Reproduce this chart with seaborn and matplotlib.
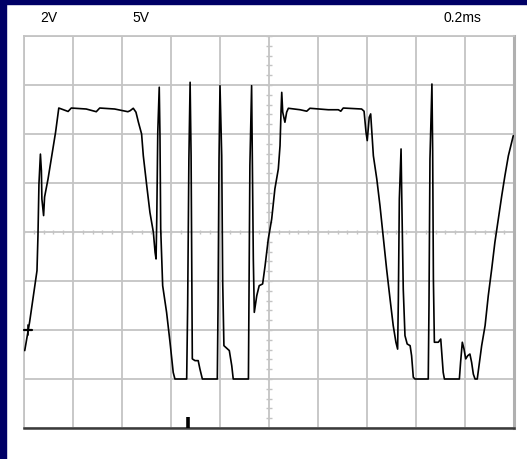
import matplotlib

matplotlib.use("Agg")
import matplotlib.pyplot as plt
from matplotlib.patches import Rectangle
import numpy as np
import pandas as pd
import seaborn as sns

# scope trace: time in ms (0.2 ms/div), volts (2 V/div, zero at marker)
time_ms = [
    0.003, 0.023, 0.044, 0.053, 0.057, 0.061, 0.067, 0.071, 0.073, 0.080,
    0.084, 0.098, 0.107, 0.118, 0.129, 0.136, 0.142, 0.180, 0.193, 0.254,
    0.295, 0.309, 0.370, 0.424, 0.433, 0.446, 0.457, 0.467, 0.480, 0.487,
    0.501, 0.514, 0.528, 0.535, 0.539, 0.542, 0.546, 0.552, 0.555, 0.558,
    0.566, 0.582, 0.596, 0.603, 0.609, 0.616, 0.664, 0.668, 0.673, 0.678,
    0.682, 0.687, 0.698, 0.711, 0.718, 0.728, 0.789, 0.792, 0.796, 0.800,
    0.807, 0.811, 0.816, 0.838, 0.848, 0.854, 0.916, 0.918, 0.922, 0.929,
    0.932, 0.936, 0.940, 0.950, 0.960, 0.974, 0.984, 0.997, 1.011, 1.024,
    1.038, 1.045, 1.049, 1.052, 1.056, 1.065, 1.072, 1.079, 1.127, 1.154,
    1.167, 1.242, 1.283, 1.293, 1.303, 1.378, 1.388, 1.396, 1.401, 1.409,
    1.415, 1.419, 1.426, 1.440, 1.453, 1.467, 1.480, 1.494, 1.507, 1.518,
    1.525, 1.528, 1.532, 1.539, 1.542, 1.548, 1.555, 1.564, 1.576, 1.582,
    1.589, 1.596, 1.650, 1.653, 1.657, 1.665, 1.668, 1.671, 1.675, 1.691,
    1.701, 1.705, 1.711, 1.716, 1.777, 1.782, 1.789, 1.796, 1.803, 1.811,
    1.820, 1.827, 1.834, 1.841, 1.850, 1.857, 1.868, 1.882, 1.895, 1.909,
    1.922, 1.936, 1.950, 1.963, 1.977, 1.997,
]
volts = [
    -0.84, 0.33, 1.81, 2.42, 3.85, 5.96, 7.18, 6.50, 5.35, 4.67,
    5.43, 6.16, 6.71, 7.39, 8.08, 8.61, 9.06, 8.92, 9.06, 9.02,
    8.91, 9.06, 9.02, 8.91, 8.95, 9.05, 8.89, 8.48, 8.00, 7.11,
    5.89, 4.80, 3.99, 3.17, 2.90, 4.61, 8.07, 9.91, 7.93, 4.12,
    1.81, 0.72, -0.50, -1.18, -1.73, -2.00, -2.00, 0.99, 6.98, 10.11,
    7.11, -1.18, -1.25, -1.25, -1.59, -2.00, -2.00, 0.99, 6.98, 9.97,
    7.11, 1.95, -0.64, -0.84, -1.46, -2.00, -2.00, 0.99, 6.71, 9.97,
    6.98, 2.90, 0.72, 1.40, 1.81, 1.88, 2.62, 3.71, 4.53, 5.76,
    6.57, 7.52, 8.89, 9.70, 8.89, 8.48, 8.89, 9.05, 8.99, 8.93,
    9.05, 8.99, 8.99, 8.93, 9.06, 9.02, 8.93, 8.07, 7.73, 8.68,
    8.82, 8.20, 7.11, 6.16, 5.07, 3.71, 2.49, 1.27, 0.18, -0.50,
    -0.78, 1.27, 5.35, 7.39, 5.35, 1.67, -0.23, -0.57, -0.64, -1.05,
    -1.93, -2.00, -2.00, 0.99, 6.98, 10.04, 7.32, 2.08, -0.50, -0.50,
    -0.37, -0.91, -1.73, -2.00, -2.00, -1.32, -0.50, -0.78, -1.18, -1.05,
    -0.98, -1.32, -1.80, -2.00, -2.00, -1.46, -0.64, 0.18, 1.40, 2.49,
    3.58, 4.53, 5.48, 6.30, 7.11, 7.93,
]

header_labels = ["2V", "5V", "0.2ms"]
header_x_px = [49, 141, 462]

channel_zero_v = 0.0
trigger_time_ms = 0.669

T_DIV, V_DIV = 0.2, 2.0
T_MAX, V_MIN, V_MAX = 2.0, -4.0, 12.0

BLUE = "#000066"
GRID = "#c4c4c4"

sns.set_style("white")
plt.rcParams["font.family"] = ["Liberation Sans", "DejaVu Sans"]

W, H = 527, 460
fig = plt.figure(figsize=(W / 100, H / 100), dpi=100)
fig.patch.set_facecolor("white")
fig.patches.append(Rectangle((0, 0), 6 / W, 1, transform=fig.transFigure, color=BLUE, zorder=0))
fig.patches.append(Rectangle((0, 1 - 5 / H), 1, 5 / H, transform=fig.transFigure, color=BLUE, zorder=0))

ax = fig.add_axes([24 / W, 1 - 429 / H, 490 / W, 392 / H])
ax.set_xlim(0, T_MAX)
ax.set_ylim(V_MIN, V_MAX)
ax.set_xticks(np.arange(0, T_MAX + 1e-9, T_DIV))
ax.set_yticks(np.arange(V_MIN, V_MAX + 1e-9, V_DIV))
ax.tick_params(length=0, labelbottom=False, labelleft=False)
ax.grid(True, color=GRID, lw=1.3)
ax.set_axisbelow(True)

for side in ["left", "top"]:
    ax.spines[side].set_color(GRID)
    ax.spines[side].set_linewidth(1.3)
ax.spines["right"].set_color("#b0b0b0")
ax.spines["right"].set_linewidth(2.2)
ax.spines["bottom"].set_color("#3a3a3a")
ax.spines["bottom"].set_linewidth(1.8)

# minor ticks on the centre cross
t_mid = T_MAX / 2
v_mid = (V_MIN + V_MAX) / 2
minor_t = np.arange(0, T_MAX + 1e-9, T_DIV / 5)
minor_v = np.arange(V_MIN, V_MAX + 1e-9, V_DIV / 5)
ax.vlines(minor_t, v_mid - 0.1, v_mid + 0.1, color=GRID, lw=1.0, zorder=1)
ax.hlines(minor_v, t_mid - 0.011, t_mid + 0.011, color=GRID, lw=1.0, zorder=1)

trace = pd.DataFrame({"time_ms": time_ms, "volts": volts})
sns.lineplot(data=trace, x="time_ms", y="volts", sort=False, estimator=None,
             color="black", lw=1.2, ax=ax, zorder=3)
ax.set_xlabel("")
ax.set_ylabel("")

# channel zero marker and trigger position marker
ax.plot([0.0, 0.034], [channel_zero_v, channel_zero_v], color="black", lw=1.6,
        clip_on=False, zorder=4)
ax.plot([0.017, 0.017], [channel_zero_v - 0.2, channel_zero_v + 0.2], color="black",
        lw=1.2, clip_on=False, zorder=4)
ax.plot([trigger_time_ms, trigger_time_ms], [V_MIN, V_MIN + 0.45], color="black",
        lw=2.6, solid_capstyle="butt", zorder=4)

for label, xp in zip(header_labels, header_x_px):
    fig.text(xp / W, 1 - 18 / H, label, ha="center", va="center", fontsize=10,
             color="black")

fig.savefig("out.png", dpi=100)
